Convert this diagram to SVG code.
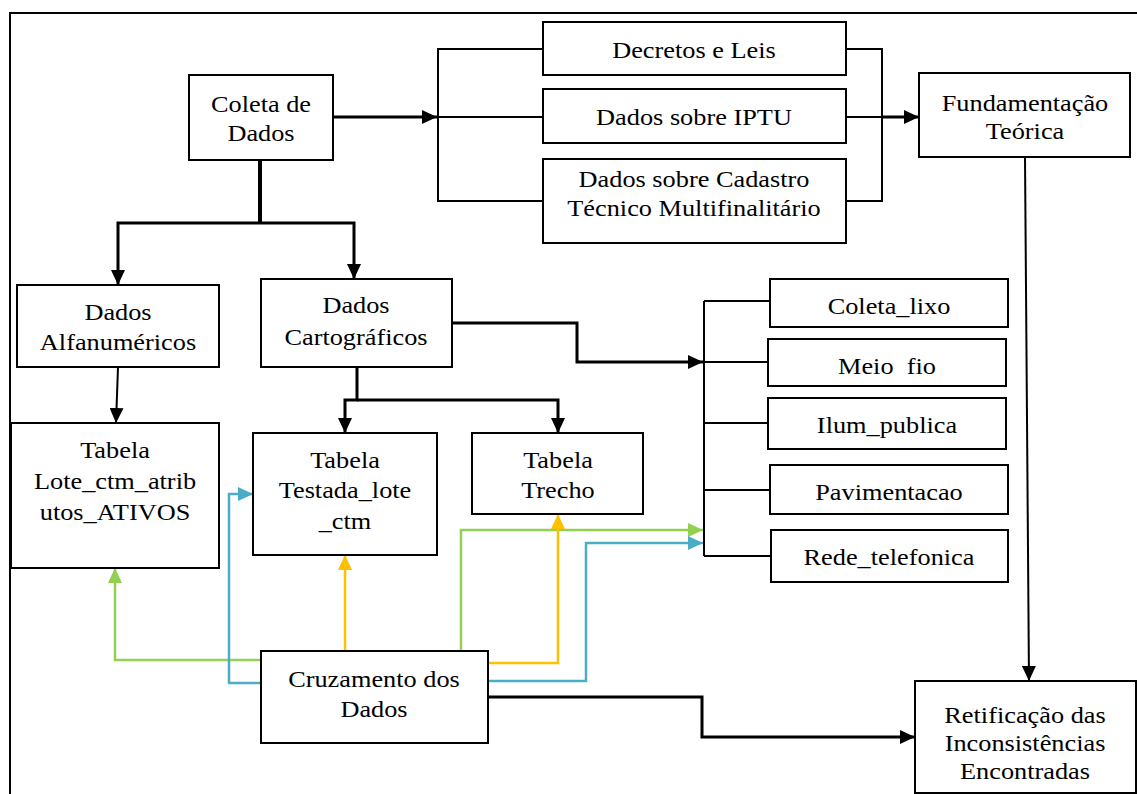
<svg xmlns="http://www.w3.org/2000/svg" width="1137" height="794" viewBox="0 0 1137 794">
<style>
.box{fill:#fff;stroke:#000;stroke-width:2}
.t{font-family:'Liberation Serif','Times New Roman',Times,Tinos,'Noto Serif','Nimbus Roman','Nimbus Roman No9 L',FreeSerif,'DejaVu Serif',Georgia,serif;font-size:23.5px;fill:#000;text-anchor:middle}
.k{fill:none;stroke:#000;stroke-width:2}
.k3{fill:none;stroke:#000;stroke-width:3}
.g{fill:none;stroke:#92D050;stroke-width:2.5}
.y{fill:none;stroke:#FFC000;stroke-width:2.5}
.b{fill:none;stroke:#4BACC6;stroke-width:2.5}
</style>
<defs>
<marker id="ak" markerUnits="userSpaceOnUse" markerWidth="15" markerHeight="14" refX="15" refY="7" orient="auto"><path d="M0,0 L15,7 L0,14 z" fill="#000"/></marker>
<marker id="ag" markerUnits="userSpaceOnUse" markerWidth="15" markerHeight="14" refX="15" refY="7" orient="auto"><path d="M0,0 L15,7 L0,14 z" fill="#92D050"/></marker>
<marker id="ay" markerUnits="userSpaceOnUse" markerWidth="15" markerHeight="14" refX="15" refY="7" orient="auto"><path d="M0,0 L15,7 L0,14 z" fill="#FFC000"/></marker>
<marker id="ab" markerUnits="userSpaceOnUse" markerWidth="15" markerHeight="14" refX="15" refY="7" orient="auto"><path d="M0,0 L15,7 L0,14 z" fill="#4BACC6"/></marker>
</defs>
<rect x="0" y="0" width="1137" height="794" fill="#fff"/>
<g id="border"><path d="M10,794 V13 H1137" class="k"/></g>

<g id="connectors">
<path d="M333,117 H437" class="k3" marker-end="url(#ak)"/>
<path d="M543,49 H438 V201 H543 M438,117 H543" class="k"/>
<path d="M846,49 H882 V201 H846 M846,117 H882" class="k"/>
<path d="M882,117 H919" class="k3" marker-end="url(#ak)"/>
<path d="M1025,157 L1029,681" class="k" marker-end="url(#ak)"/>
<path d="M260,160 V223" fill="none" stroke="#000" stroke-width="4"/>
<path d="M260,223 H118 V285" class="k3" marker-end="url(#ak)"/>
<path d="M260,223 H354 V279" class="k3" marker-end="url(#ak)"/>
<path d="M118,367 L116,423" class="k" marker-end="url(#ak)"/>
<path d="M357,367 V400 H345 V433" class="k3" marker-end="url(#ak)"/>
<path d="M357,400 H558 V433" class="k3" marker-end="url(#ak)"/>
<path d="M452,323 H577 V362 H703" class="k3" marker-end="url(#ak)"/>
<path d="M704,301 V556 M704,301 H770 M704,362 H768 M704,423 H768 M704,490 H770 M704,556 H771" class="k"/>
<path d="M261,660 H115 V568" class="g" marker-end="url(#ag)"/>
<path d="M261,683 H229 V494 H253" class="b" marker-end="url(#ab)"/>
<path d="M345,651 V555" class="y" marker-end="url(#ay)"/>
<path d="M461,651 V530 H703" class="g" marker-end="url(#ag)"/>
<path d="M488,663 H558 V514" class="y" marker-end="url(#ay)"/>
<path d="M488,681 H586 V543 H703" class="b" marker-end="url(#ab)"/>
<path d="M488,697 H702 V737 H915" class="k3" marker-end="url(#ak)"/>
</g>

<g id="coleta"><rect class="box" x="189" y="75" width="144" height="85"/>
<text class="t" transform="translate(261,112) scale(1.12,1)">Coleta de</text>
<text class="t" transform="translate(261,141) scale(1.12,1)">Dados</text></g>

<g id="decretos"><rect class="box" x="543" y="22" width="303" height="53"/>
<text class="t" transform="translate(694,58) scale(1.12,1)">Decretos e Leis</text></g>

<g id="iptu"><rect class="box" x="543" y="89" width="303" height="54"/>
<text class="t" transform="translate(694,125) scale(1.12,1)">Dados sobre IPTU</text></g>

<g id="cadastro"><rect class="box" x="543" y="159" width="303" height="84"/>
<text class="t" transform="translate(694,187) scale(1.12,1)">Dados sobre Cadastro</text>
<text class="t" transform="translate(694,216) scale(1.12,1)">Técnico Multifinalitário</text></g>

<g id="fundamentacao"><rect class="box" x="919" y="73" width="211" height="84"/>
<text class="t" transform="translate(1025,111) scale(1.12,1)">Fundamentação</text>
<text class="t" transform="translate(1025,139) scale(1.12,1)">Teórica</text></g>

<g id="alfanumericos"><rect class="box" x="17" y="285" width="202" height="82"/>
<text class="t" transform="translate(118,320) scale(1.12,1)">Dados</text>
<text class="t" transform="translate(118,350) scale(1.12,1)">Alfanuméricos</text></g>

<g id="cartograficos"><rect class="box" x="261" y="279" width="191" height="88"/>
<text class="t" transform="translate(356,313) scale(1.12,1)">Dados</text>
<text class="t" transform="translate(356,345) scale(1.12,1)">Cartográficos</text></g>

<g id="tabela-lote"><rect class="box" x="11" y="423" width="208" height="145"/>
<text class="t" transform="translate(115,458) scale(1.12,1)">Tabela</text>
<text class="t" transform="translate(115,489) scale(1.12,1)">Lote_ctm_atrib</text>
<text class="t" transform="translate(115,520) scale(1.12,1)">utos_ATIVOS</text></g>

<g id="tabela-testada"><rect class="box" x="253" y="433" width="184" height="122"/>
<text class="t" transform="translate(345,468) scale(1.12,1)">Tabela</text>
<text class="t" transform="translate(345,498) scale(1.12,1)">Testada_lote</text>
<text class="t" transform="translate(345,529) scale(1.12,1)">_ctm</text></g>

<g id="tabela-trecho"><rect class="box" x="472" y="433" width="171" height="81"/>
<text class="t" transform="translate(558,468) scale(1.12,1)">Tabela</text>
<text class="t" transform="translate(558,498) scale(1.12,1)">Trecho</text></g>

<g id="coleta-lixo"><rect class="box" x="770" y="279" width="238" height="48"/>
<text class="t" transform="translate(889,314) scale(1.12,1)">Coleta_lixo</text></g>

<g id="meio-fio"><rect class="box" x="768" y="339" width="238" height="47"/>
<text class="t" xml:space="preserve" transform="translate(887,374) scale(1.12,1)">Meio  fio</text></g>

<g id="ilum-publica"><rect class="box" x="768" y="398" width="238" height="51"/>
<text class="t" transform="translate(887,433) scale(1.12,1)">Ilum_publica</text></g>

<g id="pavimentacao"><rect class="box" x="770" y="465" width="238" height="49"/>
<text class="t" transform="translate(889,500) scale(1.12,1)">Pavimentacao</text></g>

<g id="rede-telefonica"><rect class="box" x="771" y="530" width="237" height="52"/>
<text class="t" transform="translate(889,565) scale(1.12,1)">Rede_telefonica</text></g>

<g id="cruzamento"><rect class="box" x="261" y="651" width="227" height="92"/>
<text class="t" transform="translate(374,687) scale(1.12,1)">Cruzamento dos</text>
<text class="t" transform="translate(374,717) scale(1.12,1)">Dados</text></g>

<g id="retificacao"><rect class="box" x="915" y="681" width="221" height="112"/>
<text class="t" transform="translate(1025,723) scale(1.12,1)">Retificação das</text>
<text class="t" transform="translate(1025,751) scale(1.12,1)">Inconsistências</text>
<text class="t" transform="translate(1025,779) scale(1.12,1)">Encontradas</text></g>
</svg>
